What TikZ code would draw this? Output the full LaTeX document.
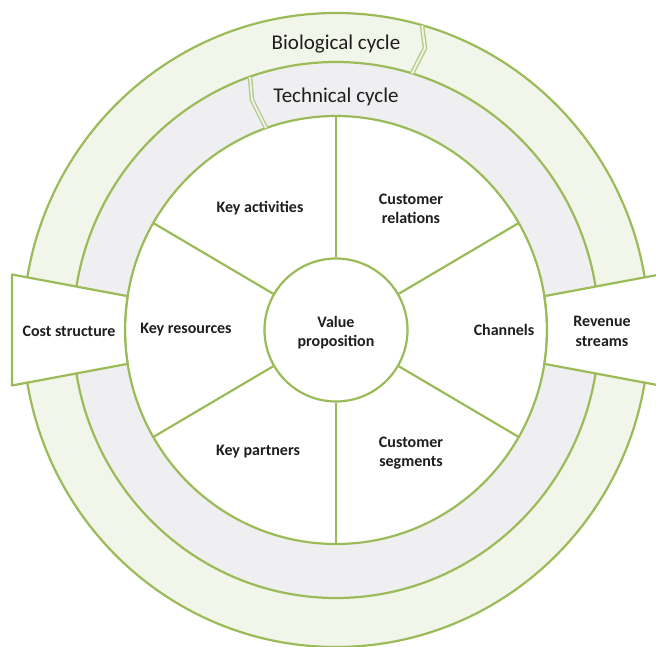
\documentclass[tikz,border=0pt]{standalone}
\usepackage{fontspec}
\setmainfont{Carlito}
\definecolor{ringgreen}{HTML}{9BBB59}
\definecolor{biofill}{HTML}{F2F5EA}
\definecolor{techfill}{HTML}{EFEFF1}
\definecolor{chev}{HTML}{B4CC86}
\definecolor{txt}{HTML}{1E1E1E}
\tikzset{
  ringline/.style={draw=ringgreen, line width=2.2pt},
  chevron/.style={draw=chev, line width=1.4pt, double distance=1.8pt},
  cyclelabel/.style={font=\fontsize{21}{24}\selectfont, text=txt, inner sep=0pt},
  seglabel/.style={font=\fontsize{16}{19.5}\selectfont\bfseries, text=txt, align=center, inner sep=0pt},
}
\begin{document}
\begin{tikzpicture}[x=1pt,y=1pt]
\useasboundingbox (-336,-316) rectangle (320,330);
% rings
\path[ringline, fill=biofill] (0,0) ellipse [x radius=313, y radius=317];
\path[ringline, fill=techfill] (0,0) ellipse [x radius=263, y radius=268];
\path[ringline, fill=white] (0,0) ellipse [x radius=211, y radius=214];
% centre
\node[circle, ringline, fill=white, minimum size=143pt, inner sep=0pt] (vp) at (0,0) {};
% spokes
\foreach \a in {30,90,150,210,270,330}
  \draw[ringline] (vp.\a) -- (\a:211 and 214);
% chevrons (arrow joints of the cycles)
\coordinate (b1) at (86,304.5);
\coordinate (b2) at (89,282);
\coordinate (b3) at (76,256.5);
\draw[chevron, double=biofill] (b1) -- (b2) -- (b3);
\coordinate (t1) at (-86,253);
\coordinate (t2) at (-84,230);
\coordinate (t3) at (-70,202);
\draw[chevron, double=techfill] (t1) -- (t2) -- (t3);
% side boxes
\draw[ringline, fill=white, line join=round] (-324,55.5) -- (170.9:211 and 214)
  arc[start angle=170.9, end angle=189.1, x radius=211, y radius=214] -- (-324,-55.5) -- cycle;
\draw[ringline, fill=white, line join=round] (324,55.5) -- (9.1:211 and 214)
  arc[start angle=9.1, end angle=-9.1, x radius=211, y radius=214] -- (324,-55.5) -- cycle;
% labels
\node[cyclelabel] (bio) at (0,286) {Biological cycle};
\node[cyclelabel] (tech) at (0,233) {Technical cycle};
\node[seglabel] (vptext) at (0,-2.5) {Value\\proposition};
\node[seglabel] (ka) at (-76,122) {Key activities};
\node[seglabel] (cr) at (75,121) {Customer\\relations};
\node[seglabel] (kr) at (-150,0) {Key resources};
\node[seglabel] (ch) at (168,0) {Channels};
\node[seglabel] (kp) at (-78,-122) {Key partners};
\node[seglabel] (cs) at (75,-123) {Customer\\segments};
\node[seglabel] (cost) at (-267,-1) {Cost structure};
\node[seglabel] (rev) at (266,-1.5) {Revenue\\streams};
\end{tikzpicture}
\end{document}
